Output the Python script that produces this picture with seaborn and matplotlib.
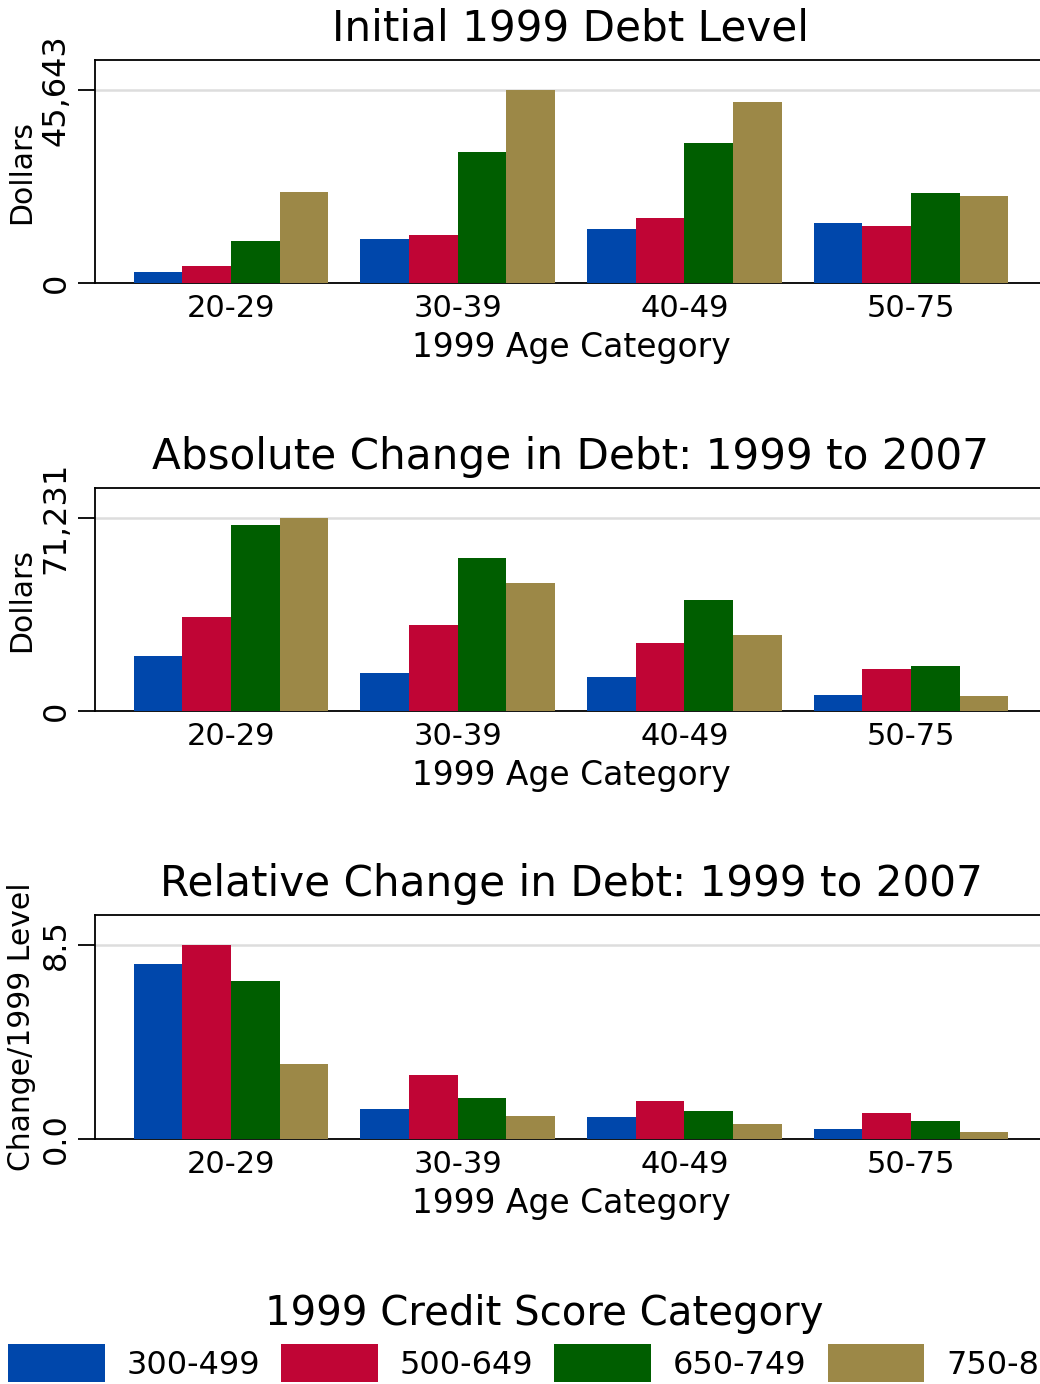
import matplotlib
matplotlib.use("Agg")
import matplotlib.pyplot as plt
import pandas as pd
import seaborn as sns
from matplotlib.patches import Patch

# categories
age_groups = ["20-29", "30-39", "40-49", "50-75"]
credit_groups = ["300-499", "500-649", "650-749", "750-850"]
palette = ["#0047AB", "#C00535", "#005E00", "#9C8847"]

# rows = credit score category, columns = age category
initial_debt = [
    [2600, 10480, 12770, 14190],
    [4020, 11280, 15370, 13480],
    [9930, 30980, 33110, 21280],
    [21520, 45643, 42800, 20570],
]
abs_change = [
    [20300, 14020, 12550, 5900],
    [34690, 31740, 25100, 15390],
    [68650, 56470, 40970, 16610],
    [71231, 47240, 28050, 5650],
]
rel_change = [
    [7.67, 1.31, 0.98, 0.42],
    [8.50, 2.80, 1.65, 1.14],
    [6.91, 1.80, 1.24, 0.79],
    [3.29, 1.01, 0.67, 0.29],
]

titles = ["Initial 1999 Debt Level",
          "Absolute Change in Debt: 1999 to 2007",
          "Relative Change in Debt: 1999 to 2007"]
ylabels = ["Dollars", "Dollars", "Change/1999 Level"]
ytick_labels = [["0", "45,643"], ["0", "71,231"], ["0.0", "8.5"]]


def to_long(values):
    rows = []
    for c, series in zip(credit_groups, values):
        for a, v in zip(age_groups, series):
            rows.append({"age": a, "credit": c, "value": v})
    return pd.DataFrame(rows)


sns.set_style("white")
plt.rcParams["font.family"] = ["DejaVu Sans"]
for key in ["text.color", "axes.labelcolor", "xtick.color", "ytick.color"]:
    plt.rcParams[key] = "black"

fig = plt.figure(figsize=(10.4, 13.84), dpi=100)
W, H = 1040, 1384
left, right = 95, 1047
tops = [60, 488, 915]
bottoms = [283, 711, 1139]

for i, data in enumerate([initial_debt, abs_change, rel_change]):
    ax = fig.add_axes([left / W, 1 - bottoms[i] / H,
                       (right - left) / W, (bottoms[i] - tops[i]) / H])
    df = to_long(data)
    sns.barplot(data=df, x="age", y="value", hue="credit", order=age_groups,
                hue_order=credit_groups, palette=palette, width=0.86,
                saturation=1, errorbar=None, legend=False, ax=ax,
                edgecolor="none", zorder=3)
    vmax = df["value"].max()
    ax.set_xlim(-0.6, 3.6)
    ax.set_ylim(0, vmax * 1.155)
    ax.set_yticks([0, vmax])
    ax.set_yticklabels(ytick_labels[i], rotation=90, va="center")
    ax.tick_params(axis="y", length=12, width=1.3, pad=5,
                   labelsize=23, direction="out", left=True)
    ax.tick_params(axis="x", length=0, pad=8, labelsize=22)
    ax.grid(axis="y", color="#dddddd", lw=1.8, zorder=0)
    for s in ["left", "top", "bottom", "right"]:
        ax.spines[s].set_linewidth(1.3)
        ax.spines[s].set_color("black")
    ax.set_title(titles[i], fontsize=30.3, pad=14)
    ax.set_xlabel("1999 Age Category", fontsize=23.7, labelpad=6)
    ax.set_ylabel(ylabels[i], fontsize=21.5, labelpad=3)

handles = [Patch(facecolor=c, edgecolor="none") for c in palette]
leg = fig.legend(handles, credit_groups, loc="lower left",
                 bbox_to_anchor=(8 / W, 2 / H), ncol=4, frameon=False,
                 fontsize=23, title="1999 Credit Score Category",
                 title_fontsize=29, handlelength=3.03, handleheight=1.45,
                 handletextpad=0.68, columnspacing=0.66, borderpad=0,
                 borderaxespad=0, labelspacing=0.3)

fig.savefig("out.png", dpi=100)
